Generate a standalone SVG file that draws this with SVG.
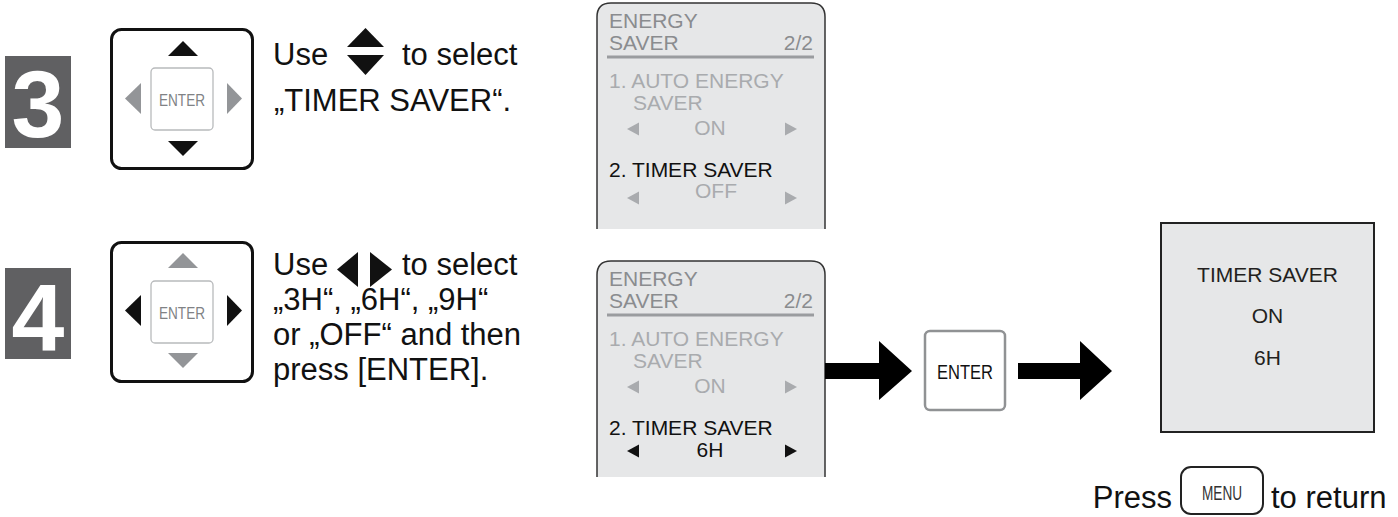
<svg xmlns="http://www.w3.org/2000/svg" width="1398" height="517" viewBox="0 0 1398 517">
<style>
.body{font-family:"Liberation Sans",Arial,sans-serif;font-size:31px;fill:#111}
.num{font-family:"Liberation Sans",Arial,sans-serif;font-weight:bold;font-size:95px;fill:#fff;text-anchor:middle}
.numbox{fill:#606062}
.kbox{fill:#fff;stroke:#111;stroke-width:3}
.kin{fill:#fff;stroke:#b8babc;stroke-width:1.3}
.klabel{font-family:"Liberation Sans",Arial,sans-serif;font-size:16px;fill:#808285;text-anchor:middle}
.on{fill:#111}
.off{fill:#939598}
.scr{fill:#e6e7e8}
.scrline{fill:none;stroke:#333;stroke-width:1.5}
.st{font-family:"Liberation Sans",Arial,sans-serif;font-size:21px}
.h{fill:#8a8c8f}
.dim{fill:#a9abae}
.blk{fill:#111}
.res{font-family:"Liberation Sans",Arial,sans-serif;font-size:21px;fill:#231f20;text-anchor:middle}
</style>
<defs>
<g id="keypadBase">
<rect class="kbox" x="1.5" y="1.5" width="141" height="139" rx="10"/>
<rect class="kin" x="41" y="40" width="62" height="62" rx="4"/>
<text class="klabel" x="72" y="78" textLength="46" lengthAdjust="spacingAndGlyphs">ENTER</text>
</g>
<g id="screenText">
<text class="st h" x="609" y="28">ENERGY</text>
<text class="st h" x="609" y="50">SAVER</text>
<text class="st h" x="813" y="50" text-anchor="end">2/2</text>
<rect x="607" y="55.5" width="207" height="3" fill="#9a9c9f"/>
<text class="st dim" x="609" y="88">1. AUTO ENERGY</text>
<text class="st dim" x="633" y="110">SAVER</text>
<polygon class="dim" points="639,122.5 639,135.5 627,129"/>
<text class="st dim" x="710" y="135" text-anchor="middle">ON</text>
<polygon class="dim" points="785,122.5 785,135.5 797,129"/>
<text class="st blk" x="609" y="177">2. TIMER SAVER</text>
</g>
</defs>

<g id="step3">
<rect class="numbox" x="5" y="56" width="66" height="92"/>
<text class="num" x="38" y="137">3</text>
</g>
<g id="keypad3" transform="translate(110,28)">
<use href="#keypadBase"/>
<polygon class="on" points="58,28 88,28 73,13"/>
<polygon class="on" points="58,113 88,113 73,128"/>
<polygon class="off" points="31,55 31,86 15,70.5"/>
<polygon class="off" points="117,55 117,86 132,70.5"/>
</g>
<g id="text3">
<text class="body" x="273" y="65">Use</text>
<polygon fill="#111" points="347,47 384,47 365.5,28"/>
<polygon fill="#111" points="347,55 384,55 365.5,75"/>
<text class="body" x="402" y="65">to select</text>
<text class="body" x="274" y="111">„TIMER SAVER“.</text>
</g>
<g id="screen1">
<path class="scr" d="M597,229 V17 Q597,3 611,3 H811 Q825,3 825,17 V229 Z"/>
<path class="scrline" d="M597,229 V17 Q597,3 611,3 H811 Q825,3 825,17 V229"/>
<use href="#screenText"/>
<polygon class="dim" points="639,191.5 639,204.5 627,198"/>
<text class="st dim" x="716" y="198" text-anchor="middle">OFF</text>
<polygon class="dim" points="785,191.5 785,204.5 797,198"/>
</g>

<g id="step4">
<rect class="numbox" x="5" y="268" width="66" height="91"/>
<text class="num" x="38" y="350">4</text>
</g>
<g id="keypad4" transform="translate(110,241)">
<use href="#keypadBase"/>
<polygon class="off" points="58,27 88,27 73,12"/>
<polygon class="off" points="58,112 88,112 73,127"/>
<polygon class="on" points="31,54 31,85 15,69.5"/>
<polygon class="on" points="117,54 117,85 132,69.5"/>
</g>
<g id="text4">
<text class="body" x="273" y="275">Use</text>
<polygon fill="#111" points="358,252 358,287 337,269.5"/>
<polygon fill="#111" points="370,252 370,287 392,269.5"/>
<text class="body" x="402" y="275">to select</text>
<text class="body" x="273" y="310">„3H“, „6H“, „9H“</text>
<text class="body" x="273" y="345">or „OFF“ and then</text>
<text class="body" x="273" y="380">press [ENTER].</text>
</g>
<g id="screen2" transform="translate(0,258)">
<path class="scr" d="M597,219 V17 Q597,3 611,3 H811 Q825,3 825,17 V219 Z"/>
<path class="scrline" d="M597,219 V17 Q597,3 611,3 H811 Q825,3 825,17 V219"/>
<use href="#screenText"/>
<polygon class="blk" points="639,186.5 639,199.5 627,193"/>
<text class="st blk" x="710" y="199" text-anchor="middle">6H</text>
<polygon class="blk" points="785,186.5 785,199.5 797,193"/>
</g>

<g id="connectors">
<polygon fill="#000" points="825,363 879,363 879,341 912,371 879,400 879,379 825,379"/>
<polygon fill="#000" points="1018,363 1080,363 1080,341 1112,371 1080,400 1080,379 1018,379"/>
</g>

<g id="enterButton">
<rect x="925" y="331" width="80" height="79" rx="5" fill="#fff" stroke="#909294" stroke-width="2.5"/>
<text x="965" y="379" font-family="Liberation Sans, Arial, sans-serif" font-size="20" fill="#111" text-anchor="middle" textLength="56" lengthAdjust="spacingAndGlyphs">ENTER</text>
</g>

<g id="result">
<rect x="1161" y="223" width="213" height="209" fill="#e6e7e8" stroke="#222" stroke-width="2"/>
<text class="res" x="1267.5" y="282">TIMER SAVER</text>
<text class="res" x="1267.5" y="323">ON</text>
<text class="res" x="1267.5" y="365">6H</text>
</g>

<g id="pressMenu">
<text class="body" x="1172" y="508" text-anchor="end">Press</text>
<rect x="1181" y="467" width="82" height="47" rx="10" fill="#fff" stroke="#222" stroke-width="2"/>
<text x="1222" y="500" font-family="Liberation Sans, Arial, sans-serif" font-size="20" fill="#333" text-anchor="middle" textLength="40" lengthAdjust="spacingAndGlyphs">MENU</text>
<text class="body" x="1271" y="508">to return</text>
</g>
</svg>
